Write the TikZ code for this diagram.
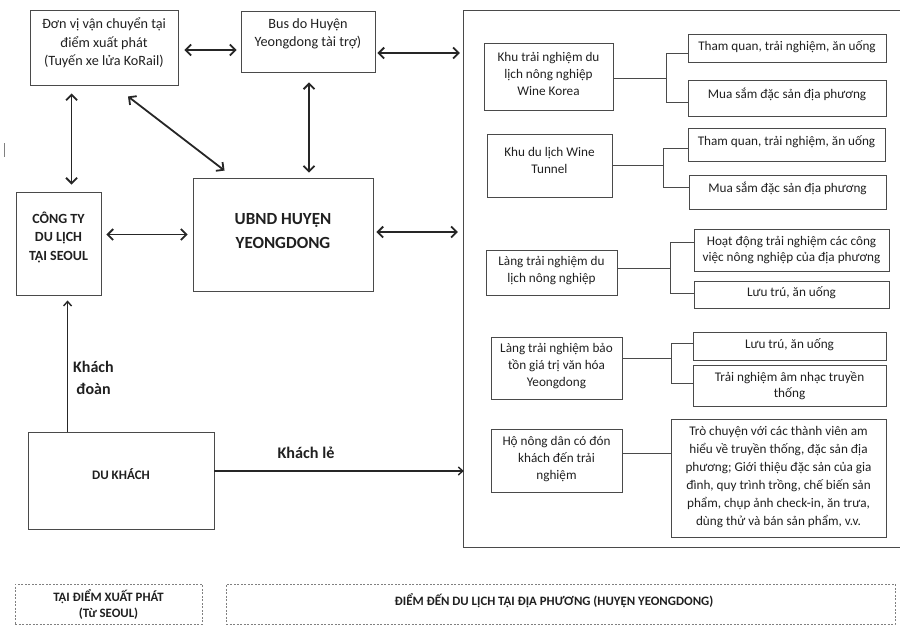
\documentclass[tikz,border=0pt]{standalone}
\usepackage{fontspec}
\setmainfont{Carlito}
\usetikzlibrary{arrows.meta,calc,fit}
\definecolor{boxc}{HTML}{4A4A4A}
\definecolor{txtc}{HTML}{202020}
\begin{document}
\begin{tikzpicture}[x=1pt,y=-1pt,
  box/.style={draw=boxc, line width=0.9pt, inner sep=0pt},
  txt/.style={text=txtc, align=center, inner sep=0pt, font=\fontsize{13.2}{17}\selectfont},
  bigtxt/.style={text=txtc, align=center, inner sep=0pt, font=\fontsize{14.2}{18.5}\selectfont},
  dbl/.style={line width=1.8pt, draw=black!85, {Straight Barb[length=5.5pt,width=11pt]}-{Straight Barb[length=5.5pt,width=11pt]}},
  sgl/.style={line width=1.4pt, draw=black!85, -{Straight Barb[length=4.5pt,width=8pt]}},
  conn/.style={line width=0.9pt, draw=boxc},
  dashbox/.style={draw=gray, dash pattern=on 2pt off 1.5pt, line width=0.8pt, inner sep=0pt},
  foot/.style={text=txtc, align=center, inner sep=0pt, font=\bfseries\fontsize{12.8}{16}\selectfont},
]
\useasboundingbox (0,0) rectangle (900,627);

% ---------- left part ----------
\node[box, fit={(30,10) (178,85)}] (dv) {};
\node[bigtxt] (tdv) at (104,43) {Đơn vị vận chuyển tại\\điểm xuất phát\\(Tuyến xe lửa KoRail)};

\node[box, fit={(241,11) (375,72)}] (bus) {};
\node[bigtxt] (tbus) at (308,34) {Bus do Huyện\\Yeongdong tài trợ)};

\node[box, fit={(16,192) (101,295)}] (cty) {};
\node[text=txtc, align=center, inner sep=0pt, font=\bfseries\fontsize{14}{18.5}\selectfont] (tcty) at (58.5,237) {CÔNG TY\\DU LỊCH\\TẠI SEOUL};

\node[box, fit={(193,178) (373,291)}] (ubnd) {};
\node[text=txtc, align=center, inner sep=0pt, font=\bfseries\fontsize{17}{24}\selectfont] (tubnd) at (283,231) {UBND HUYỆN\\YEONGDONG};

\node[box, fit={(28,432) (214,529)}] (dk) {};
\node[text=txtc, inner sep=0pt, font=\bfseries\fontsize{13}{14}\selectfont] (tdk) at (121,474) {DU KHÁCH};

% right panel
\node[inner sep=0pt, fit={(464,11) (900,547)}] (panel) {};
\draw[conn] (panel.north east) -- (panel.north west) -- (panel.south west) -- (panel.south east);

% stray tick
\draw[gray, line width=0.8pt] (4,143) -- (4,157);

% arrows
\draw[dbl] ($(dv.east)+(6,2.5)$) -- ($(dv.east -| bus.west)+(-4,2.5)$);
\draw[dbl] ($(bus.east)+(2,11.5)$) -- ($(bus.east -| panel.west)+(-4,11.5)$);
\draw[dbl] ($(dv.south west)+(42,8)$) -- ($(dv.south west |- cty.north)+(42,-7)$);
\draw[dbl] ($(dv.south)+(24,11)$) -- ($(ubnd.north west)+(32,-7)$);
\draw[dbl] ($(bus.south)+(1,10)$) -- ($(bus.south |- ubnd.north)+(1,-5)$);
\draw[dbl] ($(ubnd.west -| cty.east)+(5,0)$) -- ($(ubnd.west)+(-5,0)$);
\draw[dbl] ($(ubnd.east)+(3,-2.5)$) -- ($(ubnd.east -| panel.west)+(-6,-2.5)$);

\draw[sgl] ($(dk.north west)+(40,0)$) -- ($(dk.north west |- cty.south)+(40,5)$);
\node[text=txtc, align=center, inner sep=0pt, font=\bfseries\fontsize{16}{22}\selectfont] (lbdoan) at (93.5,378) {Khách\\đoàn};
\draw[sgl] ($(dk.east)+(0,-9.5)$) -- ($(dk.east -| panel.west)+(0,-9.5)$);
\node[text=txtc, inner sep=0pt, font=\bfseries\fontsize{16.2}{20}\selectfont] (lble) at (306,453) {Khách lẻ};

% ---------- right part ----------
% A
\node[box, fit={(484,43) (613,110)}] (A) {};
\node[txt] (tA) at (548.5,74) {Khu trải nghiệm du\\lịch nông nghiệp\\Wine Korea};
\node[box, fit={(688,34) (886,62)}] (A1) {};
\node[txt] (tA1) at (787,47) {Tham quan, trải nghiệm, ăn uống};
\node[box, fit={(688,80) (886,116)}] (A2) {};
\node[txt] (tA2) at (787,94) {Mua sắm đặc sản địa phương};
\draw[conn] ($(A.east)+(0,1.5)$) -- ++(53,0) coordinate (jA);
\draw[conn] ($(A1.west)+(0,5)$) -| (jA) |- ($(A2.west)+(0,4)$);

% B
\node[box, fit={(487,134) (612,197)}] (B) {};
\node[txt] (tB) at (549.5,160) {Khu du lịch Wine\\Tunnel};
\node[box, fit={(688,128) (885,161)}] (B1) {};
\node[txt] (tB1) at (786.5,142) {Tham quan, trải nghiệm, ăn uống};
\node[box, fit={(689,175) (886,209)}] (B2) {};
\node[txt] (tB2) at (787.5,188) {Mua sắm đặc sản địa phương};
\draw[conn] (B.east) -- ++(51,0) coordinate (jB);
\draw[conn] ($(B1.west)+(0,3.5)$) -| (jB) |- ($(B2.west)+(0,-5)$);

% C
\node[box, fit={(486,250) (617,295)}] (C) {};
\node[txt] (tC) at (551.5,271) {Làng trải nghiệm du\\lịch nông nghiệp};
\node[box, fit={(694,229) (889,271)}] (C1) {};
\node[txt, font=\fontsize{13.2}{16}\selectfont] (tC1) at (791.5,250) {Hoạt động trải nghiệm các công\\việc nông nghiệp của địa phương};
\node[box, fit={(694,281) (889,308)}] (C2) {};
\node[txt] (tC2) at (791.5,293) {Lưu trú, ăn uống};
\draw[conn] ($(C.east)+(0,-4.5)$) -- ++(53,0) coordinate (jC);
\draw[conn] ($(C1.west)+(0,-8)$) -| (jC) |- ($(C2.west)+(0,-1.5)$);

% D
\node[box, fit={(491,337) (622,399)}] (D) {};
\node[txt] (tD) at (556.5,366) {Làng trải nghiệm bảo\\tồn giá trị văn hóa\\Yeongdong};
\node[box, fit={(693,332) (886,360)}] (D1) {};
\node[txt] (tD1) at (789.5,345) {Lưu trú, ăn uống};
\node[box, fit={(693,365) (886,406)}] (D2) {};
\node[txt, font=\fontsize{13.2}{16}\selectfont] (tD2) at (789.5,386) {Trải nghiệm âm nhạc truyền\\thống};
\draw[conn] ($(D.east)+(0,-10)$) -- ++(49,0) coordinate (jD);
\draw[conn] ($(D1.west)+(0,-3)$) -| (jD) |- ($(D2.west)+(0,-2.5)$);

% E
\node[box, fit={(491,429) (622,492)}] (E) {};
\node[txt] (tE) at (556.5,459) {Hộ nông dân có đón\\khách đến trải\\nghiệm};
\node[box, fit={(671,419) (886,537)}] (F) {};
\node[txt, font=\fontsize{13.2}{18}\selectfont] (tF) at (778.5,477) {Trò chuyện với các thành viên am\\hiểu về truyền thống, đặc sản địa\\phương; Giới thiệu đặc sản của gia\\đình, quy trình trồng, chế biến sản\\phẩm, chụp ảnh check-in, ăn trưa,\\dùng thử và bán sản phẩm, v.v.};
\draw[conn] ($(E.east)+(0,-7.5)$) -- ($(E.east -| F.west)+(0,-7.5)$);

% ---------- footer ----------
\node[dashbox, fit={(15,584) (202,624)}] (fl) {};
\node[foot] (tfl) at (108.5,605) {TẠI ĐIỂM XUẤT PHÁT\\(Từ SEOUL)};
\node[dashbox, fit={(226,584) (895,624)}] (fr) {};
\node[foot] (tfr) at (554,601) {ĐIỂM ĐẾN DU LỊCH TẠI ĐỊA PHƯƠNG (HUYỆN YEONGDONG)};
\end{tikzpicture}
\end{document}
